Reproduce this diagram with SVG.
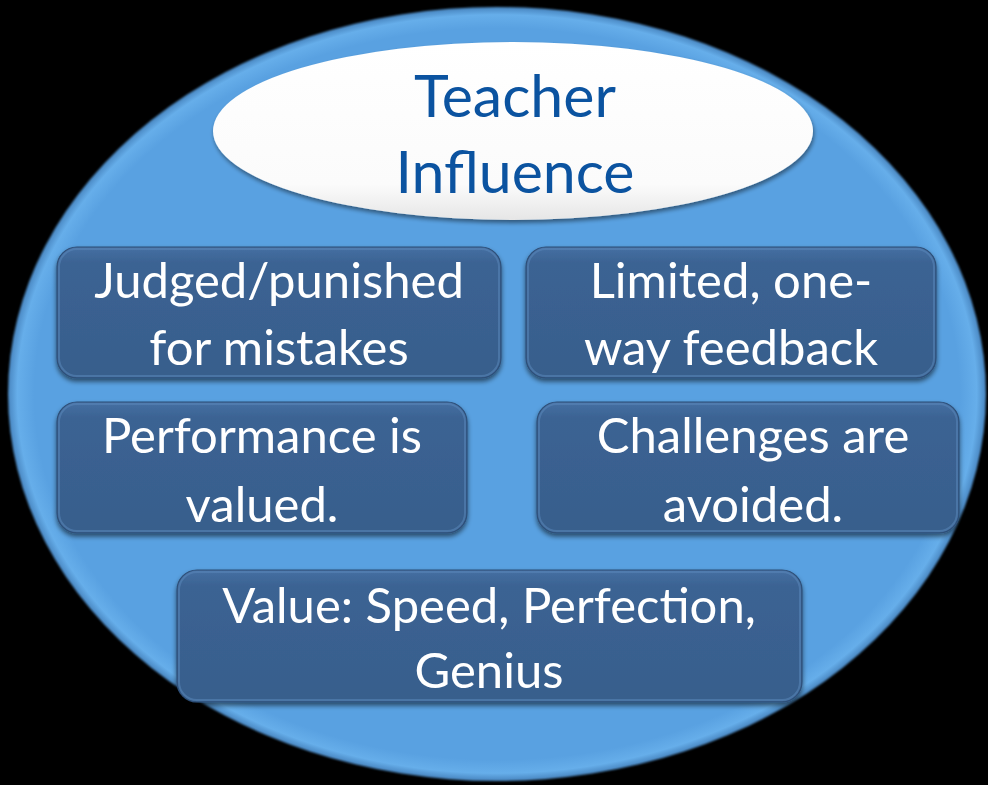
<svg xmlns="http://www.w3.org/2000/svg" width="988" height="785" viewBox="0 0 988 785">
  <defs>
    <style>
      .box { fill: url(#boxFill); stroke: #2e4f78; stroke-width: 1.2; filter: url(#boxShadow); }
      .boxHi { fill: none; stroke: #5a86ba; stroke-width: 2; stroke-opacity: 0.55; }
      .lbl { font-family: Lato, "Open Sans", "Liberation Sans", sans-serif; font-size: 49px; fill: #ffffff; text-anchor: middle; }
      .title { font-family: Lato, "Open Sans", "Liberation Sans", sans-serif; font-size: 59px; fill: #0b53a0; text-anchor: middle; }
    </style>
    <linearGradient id="boxFill" x1="0" y1="0" x2="0" y2="1">
      <stop offset="0" stop-color="#4670a3"/>
      <stop offset="0.12" stop-color="#3b6393"/>
      <stop offset="1" stop-color="#385e8c"/>
    </linearGradient>
    <linearGradient id="capFill" x1="0" y1="0" x2="0" y2="1">
      <stop offset="0" stop-color="#ffffff"/>
      <stop offset="0.8" stop-color="#fbfbfb"/>
      <stop offset="1" stop-color="#e6e6e6"/>
    </linearGradient>
    <radialGradient id="discFill" cx="0.5" cy="0.5" r="0.5">
      <stop offset="0.95" stop-color="#59a1e1"/>
      <stop offset="0.985" stop-color="#66aeea"/>
      <stop offset="1" stop-color="#4f8fca"/>
    </radialGradient>
    <filter id="boxShadow" x="-10%" y="-10%" width="120%" height="130%">
      <feGaussianBlur in="SourceAlpha" stdDeviation="2.5"/>
      <feOffset dx="0" dy="3" result="b"/>
      <feComponentTransfer><feFuncA type="linear" slope="0.55"/></feComponentTransfer>
      <feMerge><feMergeNode/><feMergeNode in="SourceGraphic"/></feMerge>
    </filter>
    <filter id="capShadow" x="-10%" y="-10%" width="120%" height="130%">
      <feGaussianBlur in="SourceAlpha" stdDeviation="2"/>
      <feOffset dx="1" dy="3" result="b"/>
      <feComponentTransfer><feFuncA type="linear" slope="0.45"/></feComponentTransfer>
      <feMerge><feMergeNode/><feMergeNode in="SourceGraphic"/></feMerge>
    </filter>
    <filter id="edgeSoft" x="-5%" y="-5%" width="110%" height="110%">
      <feGaussianBlur stdDeviation="1.2"/>
    </filter>
  </defs>

  <rect width="988" height="785" fill="#000000"/>

  <!-- outer disc -->
  <g id="disc">
    <ellipse cx="497" cy="394" rx="489" ry="387" fill="#4f8fca" filter="url(#edgeSoft)"/>
    <ellipse cx="497" cy="394" rx="487" ry="385" fill="url(#discFill)"/>
  </g>

  <!-- title cap -->
  <g id="title">
    <ellipse cx="513" cy="131" rx="300" ry="89" fill="url(#capFill)" filter="url(#capShadow)"/>
    <text class="title" x="515" y="117">Teacher</text>
    <text class="title" x="515" y="193">Influence</text>
  </g>

  <g id="connectors"/>

  <g id="judged">
    <rect class="box" x="57" y="247" width="444" height="131" rx="20"/>
    <rect class="boxHi" x="59" y="249" width="440" height="127" rx="18"/>
    <text class="lbl" x="279" y="298">Judged/punished</text>
    <text class="lbl" x="279" y="365">for mistakes</text>
  </g>

  <g id="feedback">
    <rect class="box" x="526" y="247" width="410" height="131" rx="20"/>
    <rect class="boxHi" x="528" y="249" width="406" height="127" rx="18"/>
    <text class="lbl" x="731" y="298">Limited, one-</text>
    <text class="lbl" x="731" y="365">way feedback</text>
  </g>

  <g id="performance">
    <rect class="box" x="57" y="402" width="410" height="131" rx="20"/>
    <rect class="boxHi" x="59" y="404" width="406" height="127" rx="18"/>
    <text class="lbl" x="262" y="453">Performance is</text>
    <text class="lbl" x="262" y="522">valued.</text>
  </g>

  <g id="challenges">
    <rect class="box" x="537" y="402" width="422" height="131" rx="20"/>
    <rect class="boxHi" x="539" y="404" width="418" height="127" rx="18"/>
    <text class="lbl" x="753" y="453">Challenges are</text>
    <text class="lbl" x="753" y="522">avoided.</text>
  </g>

  <g id="values">
    <rect class="box" x="177" y="570" width="625" height="132" rx="20"/>
    <rect class="boxHi" x="179" y="572" width="621" height="128" rx="18"/>
    <text class="lbl" x="489" y="623">Value: Speed, Perfection,</text>
    <text class="lbl" x="489" y="688">Genius</text>
  </g>
</svg>
